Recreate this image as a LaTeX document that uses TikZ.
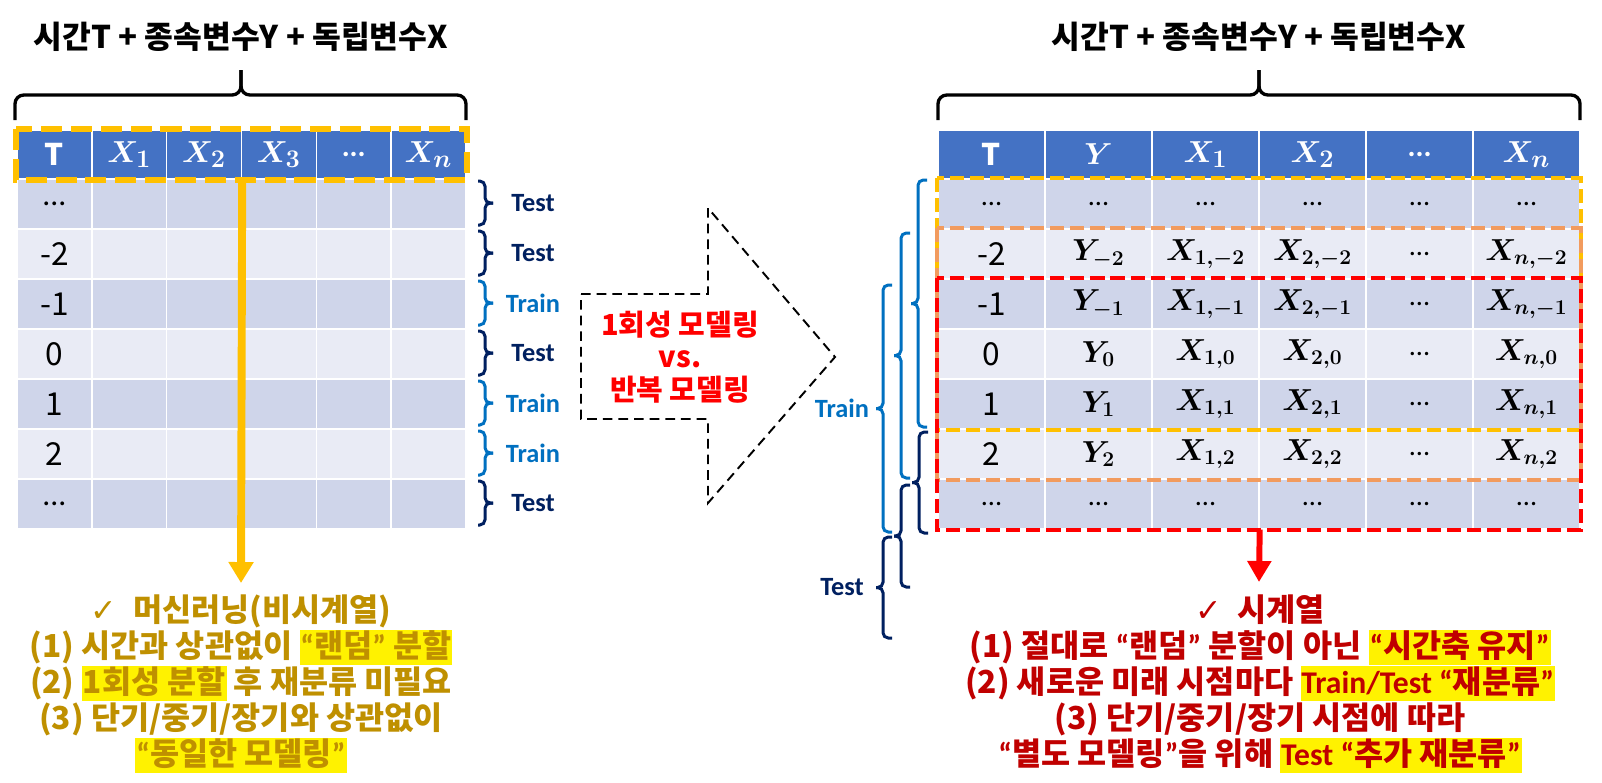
\documentclass[tikz,border=0pt]{standalone}
\usepackage[no-math]{fontspec}
\usepackage{amsmath}
\usepackage{xcolor}
\setmainfont{Noto Sans CJK KR}
\newfontfamily\latinfont{Carlito}
\newfontfamily\symfont{DejaVu Sans}
\usetikzlibrary{arrows.meta,positioning,calc}
\definecolor{hdrblue}{RGB}{68,114,196}
\definecolor{rowdark}{RGB}{207,213,234}
\definecolor{rowlight}{RGB}{233,235,245}
\definecolor{gold}{RGB}{255,192,0}
\definecolor{darkgold}{RGB}{191,144,0}
\definecolor{peach}{RGB}{242,155,94}
\definecolor{trainblue}{RGB}{0,112,192}
\definecolor{testnavy}{RGB}{0,32,96}
\definecolor{darkred}{RGB}{192,0,0}
\DeclareMathSizes{16}{16}{13}{10}
\DeclareMathSizes{17}{17}{13.5}{10}
\setlength{\fboxsep}{0.5pt}
\lineskiplimit=-30pt
\newcommand{\hlbox}[1]{\colorbox{yellow}{\vrule height 13pt depth 4pt width 0pt #1}}
\newcommand{\etcdots}{{\latinfont ...}}
\newcommand{\oq}{{\latinfont “}}
\newcommand{\cq}{{\latinfont ”}}

\begin{document}
\begin{tikzpicture}[x=0.02cm, y=-0.02cm,
  hcell/.style={draw=white, line width=0.8pt, fill=hdrblue, text=white, inner sep=0pt,
    minimum height=0.98cm, font=\fontsize{17}{20}\selectfont\bfseries\boldmath},
  bcell/.style={draw=white, line width=0.8pt, inner sep=0pt, minimum height=1cm,
    font=\fontsize{16}{19}\selectfont\boldmath},
  numtext/.style={font=\fontsize{18}{21}\selectfont},
  brace/.style={line width=1.7pt, rounded corners=3pt},
  lbl/.style={font=\latinfont\bfseries\fontsize{15}{18}\selectfont},
  title/.style={font=\fontsize{17.8}{20}\selectfont\bfseries},
  note/.style={font=\fontsize{18}{20.5}\selectfont\bfseries, align=center}]

  \fill[white] (0,0) rectangle (1602,782);
  \useasboundingbox (0,0) rectangle (1602,782);

  % Titles and top braces
  \node[title] (ltitle) at (241,37) {시간T + 종속변수Y + 독립변수X};
  \node[title] (rtitle) at (1259,37) {시간T + 종속변수Y + 독립변수X};
  \draw[line width=1.9pt, rounded corners=5pt] (15,120) -- (15,95) -- (241,95) -- (241,70);
  \draw[line width=1.9pt, rounded corners=5pt] (241,70) -- (241,95) -- (466,95) -- (466,120);
  \draw[line width=1.9pt, rounded corners=5pt] (938,120) -- (938,95) -- (1259,95) -- (1259,70);
  \draw[line width=1.9pt, rounded corners=5pt] (1259,70) -- (1259,95) -- (1580,95) -- (1580,120);

  % Left table
  \foreach \t [count=\c from 0] in {T,$\boldsymbol{X_1}$,$\boldsymbol{X_2}$,$\boldsymbol{X_3}$,\etcdots,$\boldsymbol{X_n}$}
    \node[hcell, minimum width=1.497cm] (lh\c) at ({17+74.83*(\c+0.5)},154.5) {\t};
  \foreach \lab/\col [count=\r] in {\etcdots/rowdark,-2/rowlight,-1/rowdark,0/rowlight,1/rowdark,2/rowlight,\etcdots/rowdark} {
    \foreach \c in {0,...,5}
      \node[bcell, fill=\col, minimum width=1.497cm] (lb\r-\c) at ({17+74.83*(\c+0.5)},{154+50*\r}) {};
    \node[numtext] (ln\r) at (lb\r-0) {\lab};
  }

  % Left Train/Test braces
  \foreach \lab/\col [count=\r] in {Test/testnavy,Test/testnavy,Train/trainblue,Test/testnavy,Train/trainblue,Train/trainblue,Test/testnavy} {
    \pgfmathsetmacro\btop{179+50*(\r-1)+2}
    \pgfmathsetmacro\bbot{\btop+44}
    \pgfmathsetmacro\bmid{\btop+22}
    \draw[\col, brace] (478,\btop) -- (485,\btop) -- (485,\bmid) -- (493,\bmid);
    \draw[\col, brace] (493,\bmid) -- (485,\bmid) -- (485,\bbot) -- (478,\bbot);
    \node[\col, lbl] (ls\r) at (533,\bmid) {\lab};
  }

  % Left header frame and arrow
  \draw[gold, line width=3.4pt, dash pattern=on 12pt off 5pt] (lh0.north west) rectangle (lh5.south east);
  \coordinate (lend) at (241,583);
  \draw[gold, line width=4.5pt, -{Triangle[width=0.48cm,length=0.42cm]}] (lh2.south east) -- (lend);

  % Middle arrow
  \draw[dash pattern=on 5.5pt off 3.4pt, line width=1.1pt] (581,294) -- (708,294) -- (708,208) -- (835,357)
    -- (708,503) -- (708,419) -- (581,419) -- cycle;
  \node[text=red, font=\fontsize{16.5}{18.4}\selectfont\bfseries, align=center] (vstext) at (680,357)
    {1회성 모델링\\vs.\\반복 모델링};

  % Right table
  \foreach \t [count=\c from 0] in {T,$\boldsymbol{Y}$,$\boldsymbol{X_1}$,$\boldsymbol{X_2}$,\etcdots,$\boldsymbol{X_n}$}
    \node[hcell, minimum width=2.14cm] (rh\c) at ({938+107*(\c+0.5)},154.5) {\t};
  \foreach \r in {1,7}
    \foreach \c in {0,...,5}
      \node[bcell, fill=rowdark, minimum width=2.14cm] (rb\r-\c) at ({938+107*(\c+0.5)},{154+50*\r}) {\etcdots};
  \foreach \idx/\col [count=\r from 2] in {-2/rowlight,-1/rowdark,0/rowlight,1/rowdark,2/rowlight}
    \foreach \t [count=\c from 0] in {\idx,$Y_{\idx}$,{$X_{1,\idx}$},{$X_{2,\idx}$},\etcdots,{$X_{n,\idx}$}}
      \node[bcell, fill=\col, minimum width=2.14cm] (rb\r-\c) at ({938+107*(\c+0.5)},{154+50*\r})
        {\ifnum\c=0 \fontsize{18}{21}\selectfont\fi\t};

  % Right dashed frames
  \draw[gold, line width=2.4pt, dash pattern=on 8pt off 3.4pt] (rb1-0.north west) rectangle (rb5-5.south east);
  \draw[peach, line width=2.4pt, dash pattern=on 8pt off 3.4pt] (rb2-0.north west) rectangle (rb6-5.south east);
  \draw[red, line width=2.4pt, dash pattern=on 8pt off 3.4pt] (rb3-0.north west) rectangle (rb7-5.south east);
  \coordinate (rend) at (1259,582);
  \draw[red, line width=3.4pt, -{Triangle[width=0.46cm,length=0.42cm]}] (rb7-2.south east) -- (rend);

  % Right Train/Test braces
  \foreach \btop/\bbot/\xv/\col in {180/427/918/trainblue,233/478/901/trainblue,285/532/883/trainblue,
      432/533/919/testnavy,485/587/901/testnavy,537/638/883/testnavy} {
    \pgfmathsetmacro\bmid{(\btop+\bbot)/2}
    \draw[\col, brace] ({\xv+9},\btop) -- (\xv,\btop) -- (\xv,\bmid) -- ({\xv-7},\bmid);
    \draw[\col, brace] ({\xv-7},\bmid) -- (\xv,\bmid) -- (\xv,\bbot) -- ({\xv+9},\bbot);
  }
  \node[trainblue, lbl] (rtrain) at (842,408) {Train};
  \node[testnavy, lbl] (rtest) at (842,587) {Test};

  % Notes
  \node[note, text=darkgold] (lnote) at (241,684)
    {{\symfont ✓}\enspace 머신러닝(비시계열)\\
     (1) 시간과 상관없이 \hlbox{\oq 랜덤\cq\ 분할}\\
     (2) \hlbox{1회성 분할} 후 재분류 미필요\\
     (3) 단기/중기/장기와 상관없이\\
     \hlbox{\oq 동일한 모델링\cq}};
  \node[note, text=darkred] (rnote) at (1260,684)
    {{\symfont ✓}\enspace 시계열\\
     (1) 절대로 \oq 랜덤\cq\ 분할이 아닌 \hlbox{\oq 시간축 유지\cq}\\
     (2) 새로운 미래 시점마다 \hlbox{{\latinfont Train/Test} \oq 재분류\cq}\\
     (3) 단기/중기/장기 시점에 따라\\
     \oq 별도 모델링\cq 을 위해 \hlbox{{\latinfont Test} \oq 추가 재분류\cq}};
\end{tikzpicture}
\end{document}
